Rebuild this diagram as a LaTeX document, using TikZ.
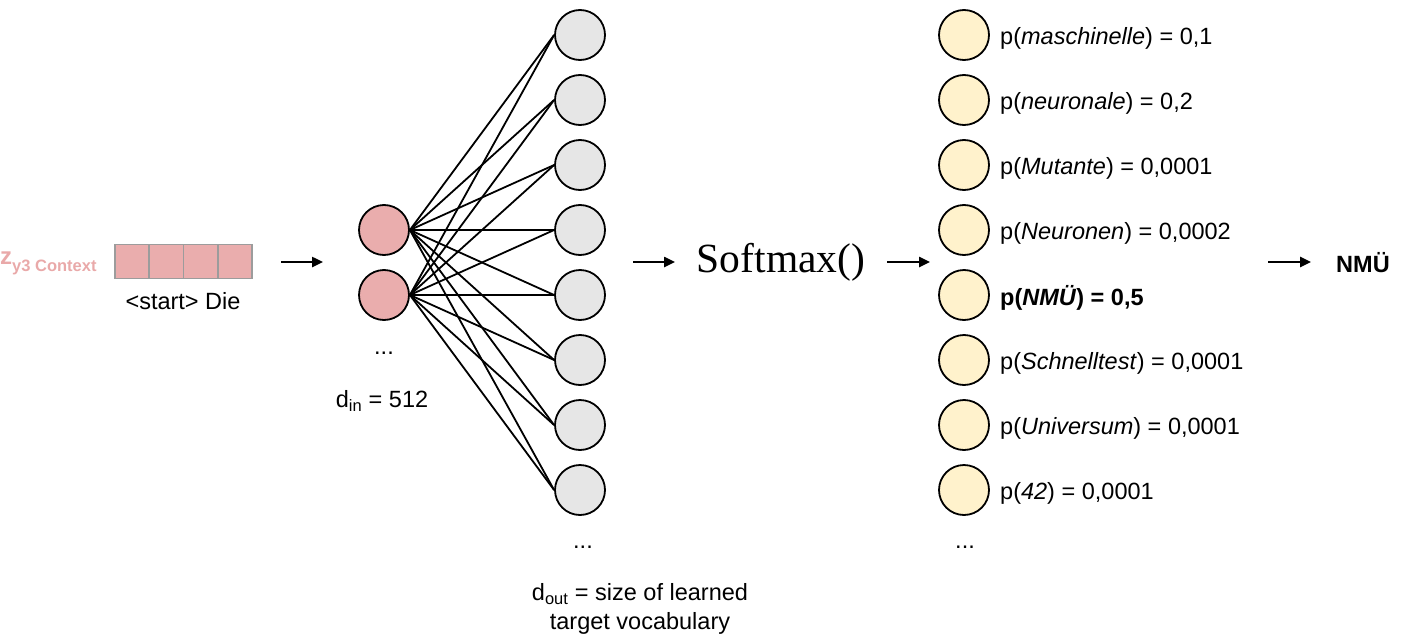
\documentclass[tikz,border=0pt]{standalone}
\usepackage{fontspec}
\setmainfont{Liberation Sans}
\newfontfamily\serifsm{Liberation Serif}
\usetikzlibrary{arrows.meta}
\definecolor{pinkf}{HTML}{EAADAD}
\definecolor{pinkt}{HTML}{E9A9A9}
\definecolor{grayf}{HTML}{E6E6E6}
\definecolor{yellf}{HTML}{FFF2CC}
\definecolor{boxst}{HTML}{9C9C9C}
\tikzset{
  neuron/.style={circle,draw=black,line width=1.8pt,minimum size=50pt,inner sep=0pt},
  inneuron/.style={neuron,fill=pinkf},
  outneuron/.style={neuron,fill=grayf},
  probneuron/.style={neuron,fill=yellf},
  cell/.style={draw=boxst,fill=pinkf,line width=1.8pt,minimum width=34.25pt,minimum height=34pt,inner sep=0pt},
  txt/.style={inner sep=0pt,font=\fontsize{23.5}{29}\selectfont},
  conn/.style={line width=1.8pt,black},
  flow/.style={line width=2.4pt,-{Triangle[length=11pt,width=10pt]}},
}
\begin{document}
\begin{tikzpicture}[x=1pt,y=-1pt]
\useasboundingbox (0,0) rectangle (1405,642);
% context label
\node[anchor=west,inner sep=0pt,text=pinkt,font=\bfseries] (ctx) at (0,263)
  {\fontsize{24}{26}\selectfont z\raisebox{-7pt}{\fontsize{16.5}{18}\selectfont y3 Context}};
% context vector
\foreach \i in {0,1,2,3}{
  \node[cell] (c\i) at ({132.1+34.25*\i},261.5) {};
}
\node[txt] (start) at (183,301) {<start> Die};
% input neurons
\node[inneuron] (i1) at (384,230) {};
\node[inneuron] (i2) at (384,295) {};
\node[txt] (idots) at (384,353) {...};
\node[txt] (din) at (382,401) {d\textsubscript{in} = 512};
% output neurons
\foreach \k in {1,...,8}{
  \node[outneuron] (o\k) at (580,{35+65*(\k-1)}) {};
}
\foreach \a in {1,2}{
  \foreach \k in {1,...,8}{
    \draw[conn] (i\a.east) -- (o\k.west);
  }
}
\node[txt] (odots) at (583,547) {...};
\node[txt,align=center] (dout) at (640,609) {d\textsubscript{out} = size of learned\\target vocabulary};
% softmax
\coordinate (a1s) at (281,262);
\coordinate (a1e) at (323,262);
\draw[flow] (a1s) -- (a1e);
\coordinate (a2s) at (633,262);
\coordinate (a2e) at (675,262);
\draw[flow] (a2s) -- (a2e);
\node[inner sep=0pt,font=\serifsm\fontsize{41.5}{44}\selectfont] (soft) at (781,262) {Softmax()};
\coordinate (a3s) at (887,262);
\coordinate (a3e) at (930,262);
\draw[flow] (a3s) -- (a3e);
% probability neurons
\foreach \k in {1,...,8}{
  \node[probneuron] (p\k) at (964,{35+65*(\k-1)}) {};
}
\node[txt,anchor=west] (l1) at (1000,38) {p(\textit{maschinelle}) = 0,1};
\node[txt,anchor=west] (l2) at (1000,103) {p(\textit{neuronale}) = 0,2};
\node[txt,anchor=west] (l3) at (1000,168) {p(\textit{Mutante}) = 0,0001};
\node[txt,anchor=west] (l4) at (1000,233) {p(\textit{Neuronen}) = 0,0002};
\node[txt,anchor=west,font=\bfseries\fontsize{23.5}{28}\selectfont] (l5) at (1000,298) {p(\textit{NMÜ}) = 0,5};
\node[txt,anchor=west] (l6) at (1000,363) {p(\textit{Schnelltest}) = 0,0001};
\node[txt,anchor=west] (l7) at (1000,428) {p(\textit{Universum}) = 0,0001};
\node[txt,anchor=west] (l8) at (1000,493) {p(\textit{42}) = 0,0001};
\node[txt] (pdots) at (965,547) {...};
% result
\coordinate (a4s) at (1268,262);
\coordinate (a4e) at (1311,262);
\draw[flow] (a4s) -- (a4e);
\node[txt,anchor=west,font=\bfseries\fontsize{23.5}{28}\selectfont] (res) at (1336,263) {NMÜ};
\end{tikzpicture}
\end{document}
